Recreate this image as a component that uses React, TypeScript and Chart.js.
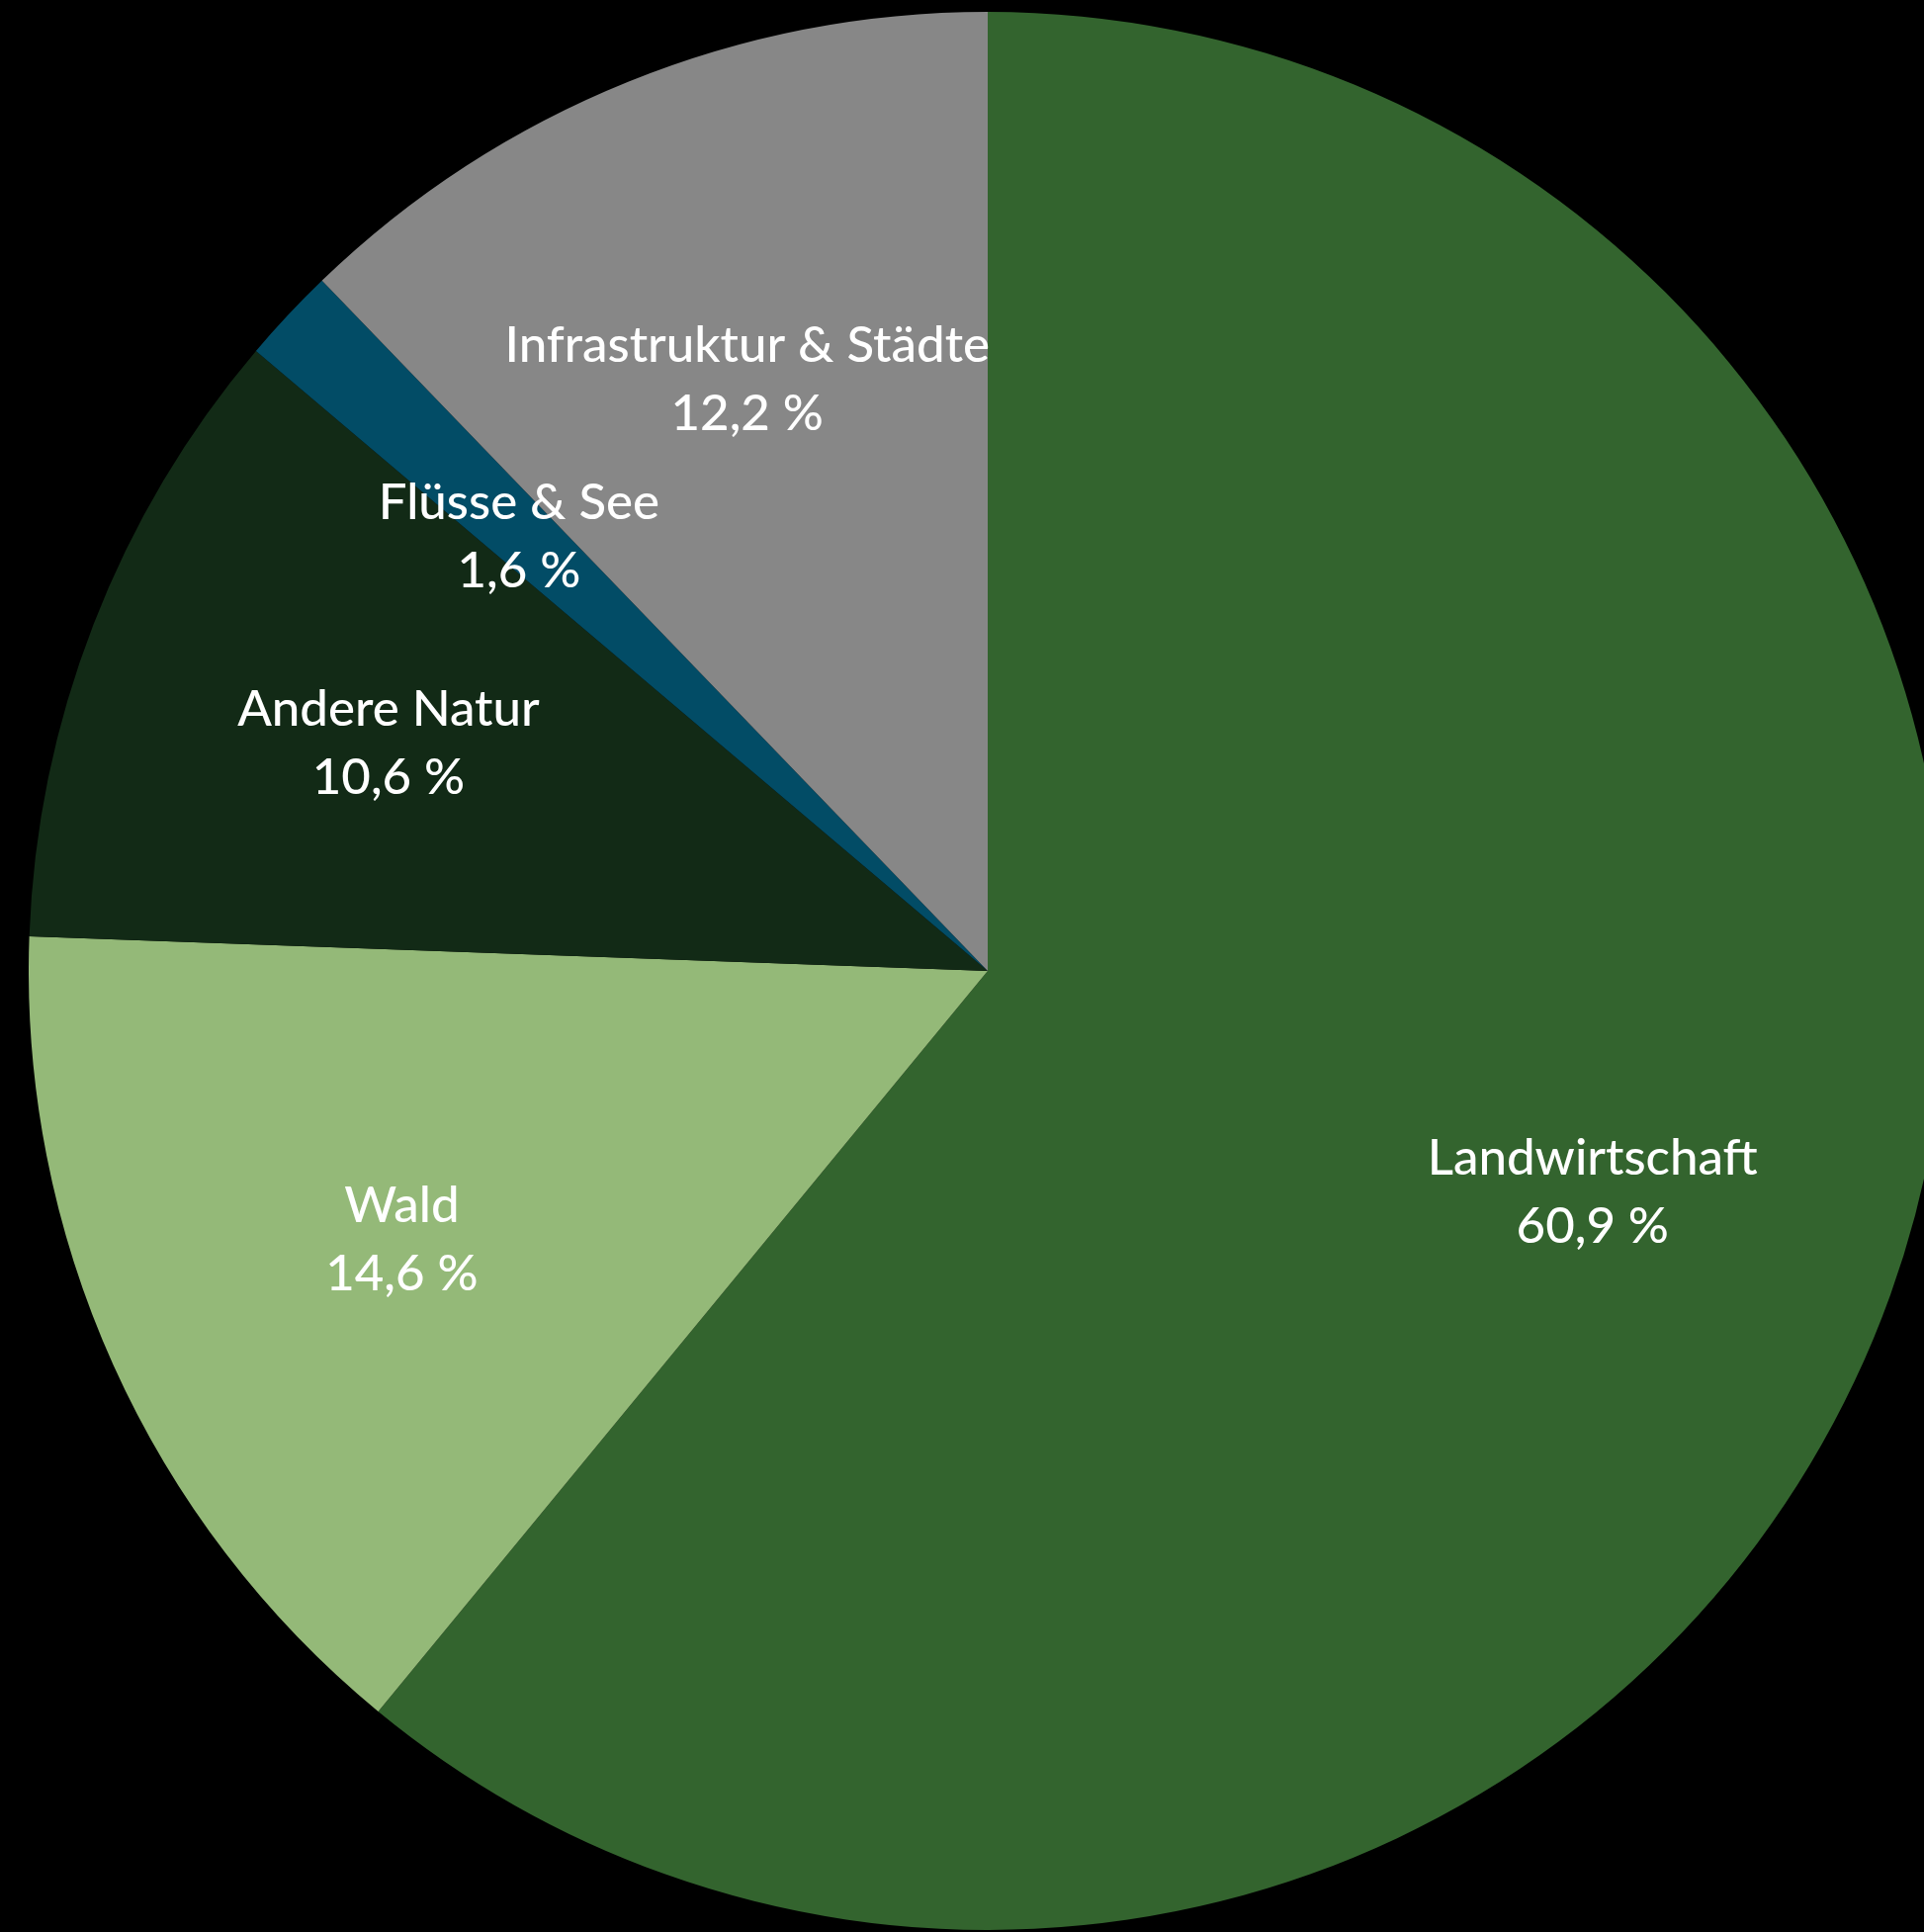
import React, { useEffect, useRef } from "react";
import { Chart, registerables } from "chart.js";

Chart.register(...registerables);

const categories = ["Landwirtschaft", "Wald", "Andere Natur", "Flüsse & See", "Infrastruktur & Städte"];
const values = [60.9, 14.6, 10.6, 1.6, 12.2];
const valueLabels = ["60,9 %", "14,6 %", "10,6 %", "1,6 %", "12,2 %"];
const colors = ["#33642e", "#94b978", "#122a16", "#024c66", "#878787"];

const FONT = "Lato, 'Noto Sans', sans-serif";

const labelPlugin = {
  id: "sliceLabels",
  afterDatasetsDraw(chart: any) {
    const ctx = chart.ctx;
    const meta = chart.getDatasetMeta(0);
    ctx.save();
    ctx.fillStyle = "#ffffff";
    ctx.textAlign = "center";
    ctx.textBaseline = "alphabetic";
    ctx.font = `500 51px ${FONT}`;
    meta.data.forEach((arc: any, i: number) => {
      const p = arc.getProps(["x", "y", "startAngle", "endAngle", "outerRadius"], true);
      const mid = (p.startAngle + p.endAngle) / 2;
      const r = p.outerRadius * 0.67;
      const cx = p.x + Math.cos(mid) * r;
      const cy = p.y + Math.sin(mid) * r;
      ctx.fillText(categories[i], cx, cy - 13);
      ctx.fillText(valueLabels[i], cx, cy + 56);
    });
    ctx.restore();
  },
};

export default function App() {
  const ref = useRef<HTMLCanvasElement>(null);
  useEffect(() => {
    document.documentElement.style.background = "#000";
    document.body.style.background = "#000";
    document.body.style.overflow = "hidden";
    const chart = new Chart(ref.current!, {
      type: "pie",
      data: {
        labels: categories,
        datasets: [
          {
            data: values,
            backgroundColor: colors,
            borderWidth: 0,
          },
        ],
      },
      options: {
        responsive: false,
        animation: false,
        layout: { padding: 0 },
        plugins: {
          legend: { display: false },
          tooltip: { enabled: false },
        },
      },
      plugins: [labelPlugin],
    });
    return () => chart.destroy();
  }, []);
  return (
    <div
      style={{
        position: "fixed",
        left: 0,
        top: 0,
        width: 1946,
        height: 1954,
        overflow: "hidden",
        background: "#000",
      }}
    >
      <canvas
        ref={ref}
        width={1940}
        height={1940}
        style={{ position: "absolute", left: 29, top: 12, width: 1940, height: 1940 }}
      />
    </div>
  );
}
